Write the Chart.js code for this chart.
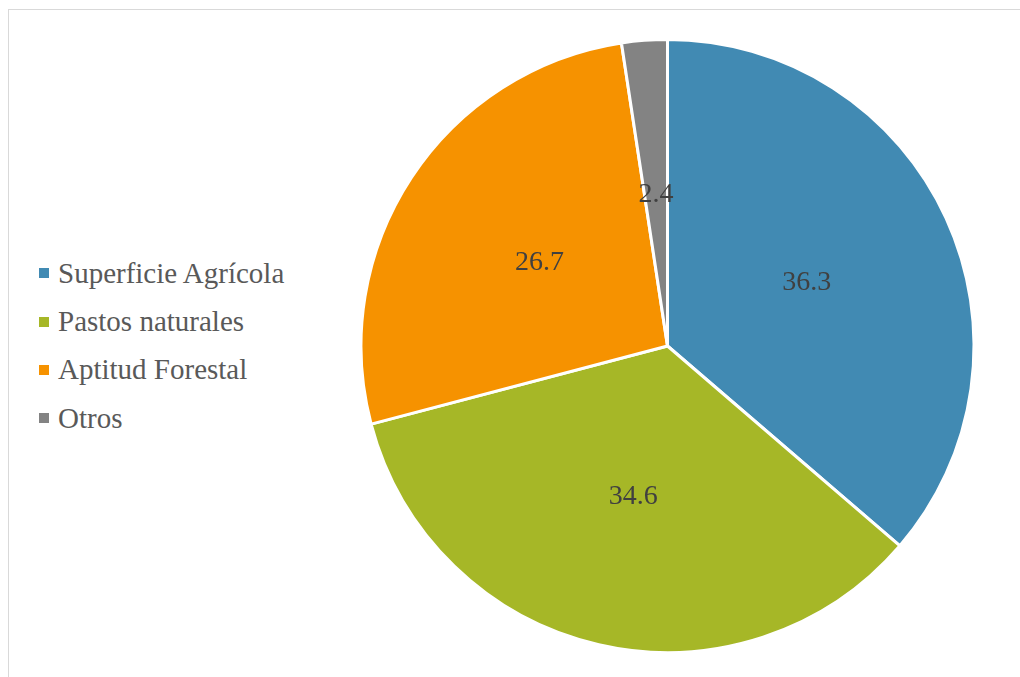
<!DOCTYPE html>
<html>
<head>
<meta charset="utf-8">
<script src="https://cdn.jsdelivr.net/npm/chart.js@4"></script>
<style>
    html, body { margin: 0; padding: 0; background: #ffffff; }
    body { width: 1020px; height: 677px; position: relative; overflow: hidden; }
    .frame { position: absolute; left: 8px; top: 9px; width: 1100px; height: 800px;
             border-top: 1px solid #d9d9d9; border-left: 1px solid #d9d9d9; }
    #wrap { position: absolute; left: 354px; top: 33px; width: 627px; height: 626px; }
    #legend { position: absolute; left: 39px; top: 249.4px; margin: 0; padding: 0; list-style: none;
              font-family: 'Liberation Serif', serif; font-size: 29px; color: #595959; }
    #legend li { height: 48.2px; display: flex; align-items: center; white-space: nowrap; }
    #legend .box { width: 10px; height: 10px; margin-right: 9px; display: inline-block; flex: none; }
</style>
</head>
<body>
<div class="frame"></div>
<ul id="legend"></ul>
<div id="wrap"><canvas id="pie"></canvas></div>
<script>
// 数据
const categories = ['Superficie Agrícola', 'Pastos naturales', 'Aptitud Forestal', 'Otros'];
const values = [36.3, 34.6, 26.7, 2.4];
const colors = ['#418ab3', '#a6b727', '#f69200', '#838383'];

// 图例（HTML）
const legend = document.getElementById('legend');
categories.forEach((name, i) => {
    const li = document.createElement('li');
    const box = document.createElement('span');
    box.className = 'box';
    box.style.background = colors[i];
    li.appendChild(box);
    li.appendChild(document.createTextNode(name));
    legend.appendChild(li);
});

/**
 * 扇区中心数值标签
 */
const sliceLabels = {
    id: 'sliceLabels',
    afterDatasetsDraw(chart) {
        const ctx = chart.ctx;
        const meta = chart.getDatasetMeta(0);
        ctx.save();
        ctx.font = "28px 'Liberation Serif', serif";
        ctx.fillStyle = '#404040';
        ctx.textAlign = 'center';
        ctx.textBaseline = 'middle';
        meta.data.forEach((arc, i) => {
            const p = arc.tooltipPosition();
            ctx.fillText(values[i].toFixed(1), p.x, p.y + 1);
        });
        ctx.restore();
    }
};

new Chart(document.getElementById('pie'), {
    type: 'pie',
    data: {
        labels: categories,
        datasets: [{
            data: values,
            backgroundColor: colors,
            borderColor: '#ffffff',
            borderWidth: 3
        }]
    },
    options: {
        responsive: true,
        maintainAspectRatio: false,
        animation: false,
        layout: { padding: 5 },
        plugins: {
            legend: { display: false },
            tooltip: { enabled: false }
        }
    },
    plugins: [sliceLabels]
});
</script>
</body>
</html>
